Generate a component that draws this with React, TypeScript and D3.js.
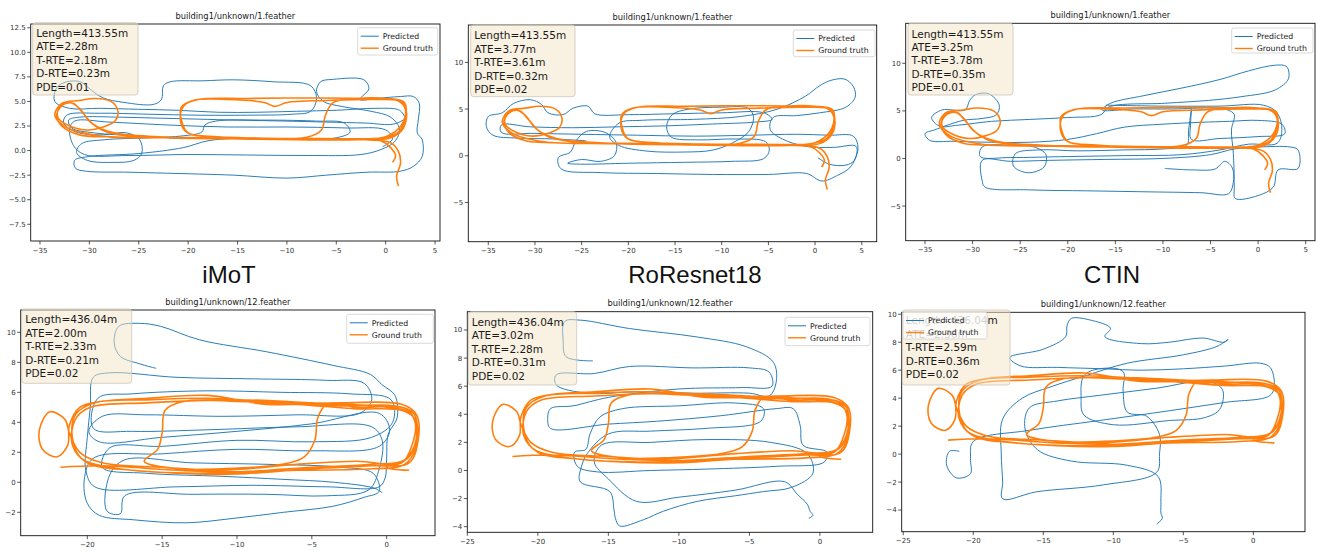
import React from "react";
import * as d3 from "d3";

type Pt = [number, number];

// ---- data (metres) ----
const methods = ["iMoT", "RoResnet18", "CTIN"];
const titles = ["building1/unknown/1.feather", "building1/unknown/12.feather"];
const legendLabels = ["Predicted", "Ground truth"];

const lengths = ["413.55", "436.04"];
const ateValues = ["2.28", "3.77", "3.25", "2.00", "3.02", "2.36"];
const trteValues = ["2.18", "3.61", "3.78", "2.33", "2.28", "2.59"];
const drteValues = ["0.23", "0.32", "0.35", "0.21", "0.31", "0.36"];
const pdeValues = ["0.01", "0.02", "0.01", "0.02", "0.02", "0.02"];

const xTicksTop = [-35, -30, -25, -20, -15, -10, -5, 0, 5];
const yTicksImot1 = [-7.5, -5, -2.5, 0, 2.5, 5, 7.5, 10, 12.5];
const yTicksTop = [-5, 0, 5, 10];
const xTicksImot12 = [-20, -15, -10, -5, 0];
const xTicksBottom = [-25, -20, -15, -10, -5, 0];
const yTicksImot12 = [-2, 0, 2, 4, 6, 8, 10];
const yTicksBottom = [-4, -2, 0, 2, 4, 6, 8, 10];

// ground truth, sequence 1
const gt1: Pt[] = [
  [1.3, -3.6], [1.1, -2.6], [1.5, -1.3], [1.3, -0.1], [0.5, 0.8], [-2, 1.1], [-8, 1.15], [-15, 1.2], [-22, 1.3],
  [-28, 1.4], [-31, 1.6], [-32.8, 2.5], [-33.3, 3.7], [-32.6, 4.7], [-31.6, 4.8], [-30.8, 4.0], [-29.5, 2.6],
  [-27.5, 1.8], [-23, 1.4], [-16, 1.2], [-9, 1.1], [-3, 1.1], [0.5, 1.3], [1.8, 2.3], [2.1, 4.0], [1.6, 5.0],
  [-1, 5.2], [-6, 5.1], [-10, 4.9], [-11.2, 4.5], [-12.3, 4.9], [-16, 5.2], [-19.5, 5.1], [-20.7, 4.4],
  [-20.6, 2.8], [-20, 1.8], [-17, 1.4], [-12, 1.2], [-6, 1.1], [-1, 1.2], [1.2, 1.8], [2.0, 3.4], [1.9, 4.9],
  [0, 5.3], [-3, 5.3], [-5.3, 4.9], [-6.1, 3.6], [-6.5, 2.1], [-8, 1.35], [-14, 1.2], [-22, 1.3], [-29, 1.5],
  [-32.4, 2.4], [-33.5, 3.6], [-32.8, 4.8], [-31, 5.1], [-29.5, 5.3], [-27.8, 5.0], [-27.1, 4.0], [-27.4, 3.0],
  [-28.6, 2.4], [-30.3, 2.1], [-32.2, 2.6], [-33.2, 3.4], [-33.0, 4.5], [-32.0, 4.9], [-31.0, 4.3], [-30.0, 3.0],
  [-28.5, 2.0], [-26, 1.5], [-18, 1.3], [-10, 1.2], [-3, 1.2], [0, 1.4], [1.6, 2.6], [2.0, 4.2], [1.2, 5.1],
  [-2, 5.3], [-8, 5.35], [-14, 5.3], [-19, 5.2], [-20.4, 4.6], [-20.8, 3.3], [-20.3, 2.0], [-19.5, 1.6],
  [-12, 1.25], [-4, 1.2], [-0.5, 1.0], [0.5, 0.3], [1.0, -0.5], [0.7, -1.2],
];

// ground truth, sequence 12
const gt12: Pt[] = [
  [-21.8, 1.0], [-19, 1.1], [-14, 0.8], [-10, 0.7], [-5, 1.0], [-1, 1.2], [1.2, 1.5], [2.0, 3.0], [1.8, 4.6],
  [0.5, 5.1], [-3, 5.1], [-8, 5.4], [-12, 5.6], [-16, 5.5], [-19.5, 5.3], [-20.8, 4.5], [-21.0, 3.0],
  [-20.4, 1.6], [-18.5, 1.0], [-14, 0.6], [-10, 0.55], [-5, 0.9], [-1, 1.1], [1.5, 1.3], [2.1, 2.8], [2.0, 4.5],
  [1, 5.2], [-3, 5.3], [-8, 5.2], [-12, 5.8], [-16, 5.6], [-19, 5.4], [-20.5, 5], [-21.2, 3.8], [-21.3, 2.5],
  [-22, 1.7], [-23, 2.2], [-23.2, 3.5], [-22.5, 4.7], [-21.5, 4.2], [-21.2, 3.3], [-20.5, 2], [-19, 1.3],
  [-15, 1.0], [-11, 0.8], [-6, 1.2], [-2, 1.4], [1, 1.3], [1.7, 2.5], [1.9, 4.0], [1.3, 4.9], [-2, 5.0],
  [-4, 5.2], [-4.6, 4.3], [-4.8, 2.8], [-5.5, 1.7], [-7, 1.2], [-11, 0.9], [-14, 0.9], [-16.2, 1.4],
  [-15.3, 2.2], [-15.0, 3.3], [-14.8, 4.8], [-13.5, 5.4], [-10, 5.4], [-6, 5.2], [-2, 4.9], [1, 4.8],
  [1.9, 4.2], [2.0, 2.5], [1.2, 1.2], [-1, 0.9], [-6, 0.8], [-12, 0.6], [-17, 0.8], [-20, 1.3], [-21, 2.5],
  [-20.8, 4.2], [-19.8, 5.0], [-16, 5.3], [-10, 5.5], [-5, 5.3], [0, 5.0], [1.6, 4.6], [2.0, 3.0], [1.4, 1.6],
  [0, 1.0], [1.5, 0.8],
];

const predImot1: Pt[] = [
  [-20.5, 1.2], [-25, 1.5], [-29.5, 1.8], [-31.8, 2.3], [-32.1, 3.1], [-31, 3.4], [-27, 3.4], [-23, 3.3],
  [-19, 3.2], [-15, 3.1], [-10, 3.0], [-6, 2.9], [-2, 2.8], [0.8, 2.7], [1.9, 3.3], [1.4, 4.1], [-1, 4.3],
  [-5, 4.1], [-9, 4.0], [-13, 3.9], [-17, 3.9], [-21, 4.1], [-25, 4.2], [-29, 4.3], [-32, 4.3], [-33.5, 5.0],
  [-33.3, 6.4], [-32.3, 7.0], [-30.9, 7.0], [-30.1, 6.4], [-28.7, 5.4], [-26.5, 4.9], [-23.5, 4.7],
  [-22.7, 5.2], [-22.5, 6.6], [-21.8, 7.0], [-18.5, 7.1], [-15.4, 7.2], [-11.4, 7.0], [-7.6, 6.6], [-7.0, 5.3],
  [-7.6, 4.0], [-9.5, 3.7], [-14, 3.6], [-19, 3.6], [-24, 3.7], [-29, 3.8], [-32.3, 3.6], [-32.6, 2.8],
  [-31.4, 1.9], [-28.9, 1.6], [-26.2, 1.8], [-24.9, 1.1], [-24.7, -0.3], [-25.5, -1.0], [-27.6, -1.2],
  [-30.2, -1.0], [-31.3, -0.2], [-30.8, 0.7], [-28.5, 1.1], [-24, 1.3], [-20.5, 1.5], [-18.6, 1.9],
  [-18.3, 2.6], [-17.2, 3.0], [-12, 3.1], [-7, 3.0], [-4.2, 2.8], [-3.6, 1.9], [-5, 1.3], [-10, 1.2],
  [-15, 1.25], [-18, 1.0], [-20.5, 0.3], [-25, -0.3], [-30, -0.6], [-31.5, -1.0], [-31.4, -1.8], [-30.3, -2.1],
  [-26, -2.2], [-22.2, -2.3], [-15.4, -2.5], [-10, -2.8], [-6, -2.5], [-1.9, -2.2], [1.5, -2.1], [2.8, -1.6],
  [3.7, -0.6], [3.7, 1.1], [3.2, 1.8], [3.3, 3.1], [3.4, 4.8], [2.8, 5.5], [1.5, 5.5], [-1, 5.3], [-2.6, 5.2],
  [-1.7, 6.3], [-2.2, 7.2], [-5.3, 7.25], [-6.6, 7.0], [-7.0, 6.0], [-6.3, 5.0], [-4.5, 4.5], [-1.5, 4.0],
  [0.5, 3.4], [1.4, 2.2], [0.9, 0.9], [-0.5, 0.1], [-2.5, -0.4], [-8, -0.5], [-14, -0.45], [-20, -0.4],
  [-26, -0.5], [-30.5, -0.4], [-31.6, 0.5], [-32, 2.2], [-31.5, 3.0], [-28, 2.9], [-22, 2.6], [-16, 2.4],
  [-10, 2.4], [-4, 2.3], [0, 2.1], [0.7, 1.2], [-0.3, 0.4],
];

const predResnet1: Pt[] = [
  [-24.5, 1.6], [-28, 1.8], [-32, 1.9], [-34.5, 2.2], [-35.2, 3.1], [-35, 4.2], [-33.5, 4.6], [-32.3, 5.6],
  [-30.5, 6.0], [-29.3, 5.5], [-28.6, 4.6], [-27, 4.4], [-25.9, 5.1], [-24.3, 5.3], [-23.6, 4.5], [-20, 4.4],
  [-15, 4.5], [-10, 4.6], [-5.5, 4.6], [-4.6, 3.9], [-6.5, 3.6], [-11, 3.4], [-16, 3.2], [-21, 3.1], [-26, 3.0],
  [-30.5, 3.1], [-33.6, 3.3], [-33.6, 2.5], [-30, 2.4], [-25, 2.3], [-19, 2.2], [-13, 2.1], [-7, 2.2],
  [-2, 2.3], [1.5, 2.2], [4.1, 2.1], [4.6, 0.9], [4.3, -0.3], [3.7, -1.3], [2.4, -2.1], [0.7, -2.7],
  [-0.9, -1.9], [-5, -2.0], [-11, -2.0], [-17, -1.9], [-23, -1.8], [-27.2, -1.4], [-27.5, -0.2], [-26.2, 0.4],
  [-25.6, 1.6], [-24.5, 2.6], [-22.5, 2.5], [-21.3, 1.4], [-21.5, 0.0], [-23, -0.6], [-25, -0.4], [-26.5, -0.8],
  [-25, -0.9], [-20, -0.8], [-14, -0.7], [-9, -0.6], [-5.5, -0.3], [-4.9, 0.6], [-5.3, 1.5], [-8.5, 1.8],
  [-12.5, 1.7], [-15.4, 2.0], [-15.9, 3.1], [-15.3, 4.4], [-13.5, 5.0], [-10, 5.2], [-7.2, 5.1], [-6.6, 4.2],
  [-7.1, 2.6], [-8.8, 1.4], [-11, 0.6], [-14, 0.4], [-18, 0.5], [-21, 1.1], [-22, 2.0], [-21, 3.5],
  [-18.5, 3.8], [-13, 3.9], [-8, 4.2], [-4, 5.0], [-1, 6.4], [0.5, 7.5], [1.8, 8.1], [3.2, 8.2], [4.1, 7.4],
  [4.3, 6.3], [3.3, 5.2], [0.5, 4.6], [-2, 4.3], [-4.5, 4.1], [-4.8, 2.8], [-3.5, 1.8], [-1, 1.0], [2, 0.9],
  [4.4, 1.0], [4.2, -0.5], [3.3, -1.0], [1.5, -0.9], [0.3, -0.2],
];

const predCtin1: Pt[] = [
  [-9.8, -1.05], [-7, -1.2], [-4.5, -1.1], [-3.5, -0.3], [-2.7, -1.0], [-2.5, -3.0], [-2.4, -4.2], [0, -3.9],
  [1.6, -3.0], [2.1, -1.2], [4.2, -1.05], [4.2, 0.9], [3.4, 1.2], [0, 1.2], [-2.5, 1.0], [-5, 0.4], [-10, 0.0],
  [-16, -0.1], [-22, -0.2], [-26, -0.3], [-29, -0.2], [-29, -2.3], [-28.7, -3.0], [-24, -3.3], [-18, -3.4],
  [-12, -3.5], [-6, -3.6], [-3.1, -3.7], [-2.6, -2.5], [-2.6, 0.5], [-2.8, 3.0], [-2.5, 4.6], [-3.2, 5.1],
  [-5, 5.3], [-9, 5.2], [-13, 5.2], [-16.4, 5.1], [-15.5, 5.8], [-12, 6.6], [-8, 7.4], [-4, 8.3], [-1, 9.2],
  [1.8, 9.8], [3.0, 9.65], [3.2, 8.4], [1.8, 7.2], [-1.7, 6.5], [-5.2, 6.1], [-9.8, 5.8], [-15.7, 5.4],
  [-16.5, 4.6], [-20, 4.3], [-24, 4.1], [-28, 3.9], [-31.5, 3.5], [-33.5, 3.4], [-34.3, 4.3], [-33.2, 5.1],
  [-30.8, 5.1], [-30.3, 6.1], [-29.7, 6.7], [-28.3, 6.8], [-27.2, 5.6], [-27.5, 4.6], [-29, 4.2], [-31, 4.0],
  [-34, 3.0], [-35, 2.6], [-34.5, 1.9], [-32, 1.8], [-28, 1.7], [-24, 1.7], [-20, 2.0], [-17, 2.6], [-14, 3.3],
  [-10, 3.6], [-6, 3.8], [-3, 3.9], [0, 4.0], [2.5, 3.6], [2.8, 2.6], [0, 2.3], [-4, 2.1], [-7, 2.0],
  [-7.1, 3.5], [-7.0, 5.2], [-7.3, 3.0], [-7.5, 1.4], [-10, 1.0], [-14, 0.9], [-19, 0.8], [-23, 0.9],
  [-25.5, 0.5], [-25.7, -0.8], [-24.2, -1.5], [-22.5, -0.9], [-22.3, 0.4], [-23.5, 1.2], [-26, 1.4], [-29, 1.2],
  [-29.2, 0.2], [-26, 0.1], [-20, 0.2], [-14, 0.3], [-8, 0.4], [-4, 0.9], [-1, 1.5], [2, 1.6], [2.5, 3.0],
  [2, 4.8], [0.55, 5.6], [-4, 5.5], [-10, 5.5], [-16, 5.6],
];

const predImot12: Pt[] = [
  [-15.4, 7.6], [-16.5, 7.9], [-17.8, 8.4], [-18.2, 9.3], [-17.9, 10.4], [-16.5, 10.6], [-15.1, 10.4],
  [-12.5, 9.5], [-8, 8.7], [-3.6, 7.8], [-1.1, 7.2], [-0.3, 6.5], [0.55, 5.8], [0.7, 4.3], [0.1, 3.2],
  [0, 1.6], [-0.1, 0.3], [-0.5, -0.3], [-4, -0.3], [-9, -0.2], [-14, -0.3], [-19.5, -0.3], [-20.1, 0.8],
  [-20.0, 3.0], [-19.8, 5.0], [-19.6, 7.0], [-18.5, 7.3], [-14, 7.0], [-9, 6.9], [-4, 6.8], [-1.5, 6.6],
  [-1.0, 5.5], [-1.8, 4.6], [-6, 4.5], [-11, 4.4], [-16, 4.5], [-19, 4.4], [-19.9, 3.4], [-19.2, 2.7],
  [-15, 3.0], [-10, 3.4], [-5, 3.9], [-0.5, 4.6], [0.2, 3.5], [-0.5, 2.4], [-5, 2.1], [-10, 2.2], [-15, 1.9],
  [-19.6, 1.6], [-20.2, 0.2], [-20.0, -1.4], [-19.2, -2.2], [-16.9, -2.5], [-13.4, -2.7], [-10.2, -2.4],
  [-6.9, -2.0], [-3.6, -1.6], [-1.5, -1.0], [-0.5, -0.6], [-0.9, 0.6], [-3, 1.0], [-8, 1.2], [-13, 1.3],
  [-17.5, 1.5], [-18.5, 0.5], [-18.7, -1.9], [-17.8, -2.1], [-17.5, -0.9], [-13, -0.8], [-8, -0.8], [-4, -0.9],
  [-1.2, -0.5], [-0.5, 0.9], [-0.3, 2.8], [-1.0, 3.7], [-6, 3.7], [-12, 3.5], [-17, 3.4], [-19.6, 3.6],
  [-19.3, 5.6], [-17, 5.9], [-12, 6.1], [-7, 6.0], [-2.5, 5.9], [0.3, 5.5], [0.4, 4.0], [-1.0, 3.0], [-5, 2.7],
  [-10, 2.8], [-15, 2.4], [-18.5, 2.3], [-19, 1.0], [-16, 0.6], [-11, 0.4], [-7, 0.2], [-3.5, 0.0],
  [-0.8, -0.4], [-0.3, -0.7],
];

const predResnet12: Pt[] = [
  [-16.1, 7.8], [-18, 8.1], [-18.2, 9.2], [-18.1, 10.6], [-17, 10.7], [-13.5, 10.1], [-8.7, 9.5], [-5.2, 8.8],
  [-3.3, 7.7], [-3.1, 6.3], [-3.6, 5.3], [-5, 5.5], [-9, 5.5], [-13, 5.6], [-16.5, 5.5], [-18.7, 6.1],
  [-18.7, 6.8], [-16, 6.9], [-13.5, 7.4], [-9, 7.3], [-5, 7.3], [-3.6, 7.0], [-3.4, 6.0], [-5.5, 5.9],
  [-10, 5.8], [-15, 5.2], [-17.5, 4.6], [-19.1, 4.4], [-19.3, 3.7], [-19.1, 3.0], [-15, 3.3], [-11.6, 3.5],
  [-7, 3.9], [-3.1, 4.4], [-1.9, 4.4], [-1.4, 3.2], [-1.2, 1.8], [0.5, 1.3], [0.3, 0.6], [-3, 0.3], [-8, 0.1],
  [-12, 0.0], [-15.8, -0.1], [-17.2, 0.3], [-17.4, 1.3], [-16.6, 1.5], [-16.3, 2.6], [-15.6, 3.8], [-14, 4.4],
  [-10, 4.6], [-6, 4.8], [-4, 4.4], [-4.2, 3.5], [-8, 3.0], [-12, 2.8], [-15, 2.6], [-16.5, 1.2], [-16.9, 0.3],
  [-17, -0.8], [-14.9, -1.5], [-14.6, -2.8], [-14.5, -3.4], [-14.2, -3.95], [-12.5, -3.5], [-11.1, -2.9],
  [-8.7, -2.2], [-6, -1.8], [-4, -1.5], [-2, -1.2], [-0.5, -0.2], [-0.9, 1.2], [-3.5, 2.0], [-8, 2.2],
  [-12, 2.0], [-15.5, 1.8], [-16, 0.6], [-15, -0.6], [-13, -2.2], [-10, -1.9], [-6, -1.4], [-2.5, -0.8],
  [-1.6, -1.7], [-0.9, -2.4], [-0.7, -2.9], [-0.5, -3.2], [-0.8, -3.4],
];

const predCtin12: Pt[] = [
  [-21.0, 0.2], [-21.7, 0.2], [-21.9, -0.8], [-21.2, -1.7], [-20.2, -1.4], [-20.2, -0.3], [-20.0, 0.9],
  [-16, 1.7], [-11, 2.4], [-6, 3.1], [-2, 3.7], [1.2, 4.2], [1.5, 5.0], [1.2, 6.2], [0.5, 6.5], [-2, 6.3],
  [-5, 6.1], [-8, 6.0], [-10.7, 6.1], [-14, 6.2], [-16.6, 6.3], [-17.4, 6.9], [-15, 7.5], [-13.4, 8.4],
  [-13.3, 9.2], [-13, 9.7], [-11.7, 9.6], [-10.2, 9.0], [-10.6, 8.4], [-8, 7.9], [-6, 8.0], [-3.6, 8.3],
  [-2.1, 8.0], [-1.8, 8.2], [-2.6, 7.7], [-5, 7.1], [-9, 6.5], [-12, 5.6], [-14.5, 4.8], [-16.5, 4.0],
  [-17.9, 2.5], [-18.0, 0.0], [-17.9, -2.0], [-17.9, -3.2], [-15.5, -2.7], [-10.7, -2.2], [-6.9, -1.3],
  [-6.7, 0.0], [-6.7, 1.4], [-7.6, 2.7], [-9.0, 3.0], [-9.3, 4.5], [-9.3, 5.9], [-11, 6.1], [-12.1, 5.6],
  [-12.3, 4.0], [-12.1, 2.8], [-10, 2.1], [-6, 2.4], [-3.5, 2.6], [-2.4, 3.2], [-2.2, 4.6], [-3.2, 5.2],
  [-7, 4.7], [-11, 4.2], [-14, 3.8], [-16, 3.3], [-16.3, 1.8], [-15.4, 0.3], [-13, -0.5], [-9, -0.8],
  [-6.8, -1.6], [-6.6, -3.4], [-6.6, -4.2], [-6.5, -4.6], [-6.9, -5.0],
];

// ---- layout ----
const W = 1317;
const H = 551;
const FONT = "DejaVu Sans, sans-serif";

interface PanelCfg {
  x0: number; x1: number; y0: number; y1: number;
  xd: [number, number]; yd: [number, number];
  xt: number[]; yt: number[]; yfmt: string;
  pred: Pt[]; gt: Pt[]; title: string; seq: number;
  box: [number, number, number, number];
  legend: [number, number, number, number];
}

const panels: PanelCfg[] = [
  { x0: 30.7, x1: 440, y0: 24, y1: 241, xd: [-35.94, 5.5], yd: [-9.2, 12.88], xt: xTicksTop, yt: yTicksImot1, yfmt: ".1f",
    pred: predImot1, gt: gt1, title: titles[0], seq: 0, box: [32.7, 22.7, 105.3, 72.3], legend: [357.7, 27.7, 80, 27.3] },
  { x0: 468.3, x1: 876.7, y0: 25, y1: 241.7, xd: [-37.14, 6.6], yd: [-9.2, 14.0], xt: xTicksTop, yt: yTicksTop, yfmt: "d",
    pred: predResnet1, gt: gt1, title: titles[0], seq: 0, box: [470.7, 25, 104.3, 71.7], legend: [793.3, 30, 81.7, 26.7] },
  { x0: 905.7, x1: 1315, y0: 23.3, y1: 240.7, xd: [-37.03, 5.98], yd: [-8.64, 14.2], xt: xTicksTop, yt: yTicksTop, yfmt: "d",
    pred: predCtin1, gt: gt1, title: titles[0], seq: 0, box: [908, 23.3, 105, 71.7], legend: [1231.7, 28, 81.3, 25] },
  { x0: 20.7, x1: 435, y0: 310, y1: 535.7, xd: [-24.45, 3.23], yd: [-3.56, 11.49], xt: xTicksImot12, yt: yTicksImot12, yfmt: "d",
    pred: predImot12, gt: gt12, title: titles[1], seq: 1, box: [21.7, 309, 110, 74.3], legend: [346.7, 314.3, 86.6, 29] },
  { x0: 467.3, x1: 872.7, y0: 311.7, y1: 532.3, xd: [-25, 3.74], yd: [-4.4, 11.3], xt: xTicksBottom, yt: yTicksBottom, yfmt: "d",
    pred: predResnet12, gt: gt12, title: titles[1], seq: 1, box: [468.3, 311.7, 108.4, 73.3], legend: [785, 317.3, 85, 28.4] },
  { x0: 901.7, x1: 1305, y0: 312.3, y1: 531.7, xd: [-25.11, 3.69], yd: [-5.55, 10.14], xt: xTicksBottom, yt: yTicksBottom, yfmt: "d",
    pred: predCtin12, gt: gt12, title: titles[1], seq: 1, box: [902.3, 310, 107.7, 75], legend: [903, 312, 84, 27] },
];

const labelPos = [229, 695, 1112];

function Panel({ p, i }: { p: PanelCfg; i: number }) {
  const x = d3.scaleLinear().domain(p.xd).range([p.x0, p.x1]);
  const y = d3.scaleLinear().domain(p.yd).range([p.y1, p.y0]);
  const line = d3.line<Pt>().x((d) => x(d[0])).y((d) => y(d[1])).curve(d3.curveCatmullRom.alpha(0.5));
  const fy = d3.format(p.yfmt);
  const fx = d3.format("d");
  const clipId = `clip${i}`;
  const lines = [
    `Length=${lengths[p.seq]}m`,
    `ATE=${ateValues[i]}m`,
    `T-RTE=${trteValues[i]}m`,
    `D-RTE=${drteValues[i]}m`,
    `PDE=${pdeValues[i]}`,
  ];
  const [bx, by, bw, bh] = p.box;
  const [lx, ly, lw, lh] = p.legend;
  return (
    <g>
      <defs>
        <clipPath id={clipId}>
          <rect x={p.x0} y={p.y0} width={p.x1 - p.x0} height={p.y1 - p.y0} />
        </clipPath>
      </defs>
      <text x={(p.x0 + p.x1) / 2} y={p.y0 - 5.5} textAnchor="middle" fontSize={8.3} fontFamily={FONT} fill="#222">
        {p.title}
      </text>
      <g clipPath={`url(#${clipId})`}>
        <path d={line(p.pred) ?? ""} fill="none" stroke="#1f77b4" strokeWidth={0.95} />
        <path d={line(p.gt) ?? ""} fill="none" stroke="#ff7f0e" strokeWidth={1.6} />
      </g>
      <rect x={p.x0} y={p.y0} width={p.x1 - p.x0} height={p.y1 - p.y0} fill="none" stroke="#111" strokeWidth={0.9} />
      {p.xt.map((t) => (
        <g key={`x${t}`}>
          <line x1={x(t)} x2={x(t)} y1={p.y1} y2={p.y1 + 3.5} stroke="#111" strokeWidth={0.7} />
          <text x={x(t)} y={p.y1 + 11.5} textAnchor="middle" fontSize={7} fontFamily={FONT} fill="#333">
            {fx(t)}
          </text>
        </g>
      ))}
      {p.yt.map((t) => (
        <g key={`y${t}`}>
          <line x1={p.x0 - 3.5} x2={p.x0} y1={y(t)} y2={y(t)} stroke="#111" strokeWidth={0.7} />
          <text x={p.x0 - 5} y={y(t)} dy="0.35em" textAnchor="end" fontSize={7} fontFamily={FONT} fill="#333">
            {fy(t)}
          </text>
        </g>
      ))}
      <rect x={bx} y={by} width={bw} height={bh} rx={3} fill="#f3e3c6" fillOpacity={0.5} stroke="#cdc6ba" strokeWidth={0.8} />
      {lines.map((s, k) => (
        <text key={s} x={bx + 3.5} y={by + 14.3 + k * 13.4} fontSize={10.5} fontFamily={FONT} fill="#1a1a1a">
          {s}
        </text>
      ))}
      <rect x={lx} y={ly} width={lw} height={lh} rx={2} fill="#fff" fillOpacity={0.8} stroke="#d0d0d0" strokeWidth={0.8} />
      {legendLabels.map((s, k) => (
        <g key={s}>
          <line x1={lx + 3} x2={lx + 21} y1={ly + 8.5 + k * 12} y2={ly + 8.5 + k * 12}
            stroke={k === 0 ? "#1f77b4" : "#ff7f0e"} strokeWidth={k === 0 ? 1 : 1.4} />
          <text x={lx + 25} y={ly + 8.5 + k * 12} dy="0.35em" fontSize={7.8} fontFamily={FONT} fill="#222">
            {s}
          </text>
        </g>
      ))}
    </g>
  );
}

export default function App() {
  return (
    <svg width={W} height={H} style={{ display: "block", position: "absolute", left: 0, top: 0 }}>
      <rect width={W} height={H} fill="#fff" />
      {panels.map((p, i) => (
        <Panel key={i} p={p} i={i} />
      ))}
      {methods.map((m, k) => (
        <text key={m} x={labelPos[k]} y={283} textAnchor="middle" fontSize={24} fontFamily="Liberation Sans, Arial, sans-serif" fill="#111">
          {m}
        </text>
      ))}
    </svg>
  );
}
